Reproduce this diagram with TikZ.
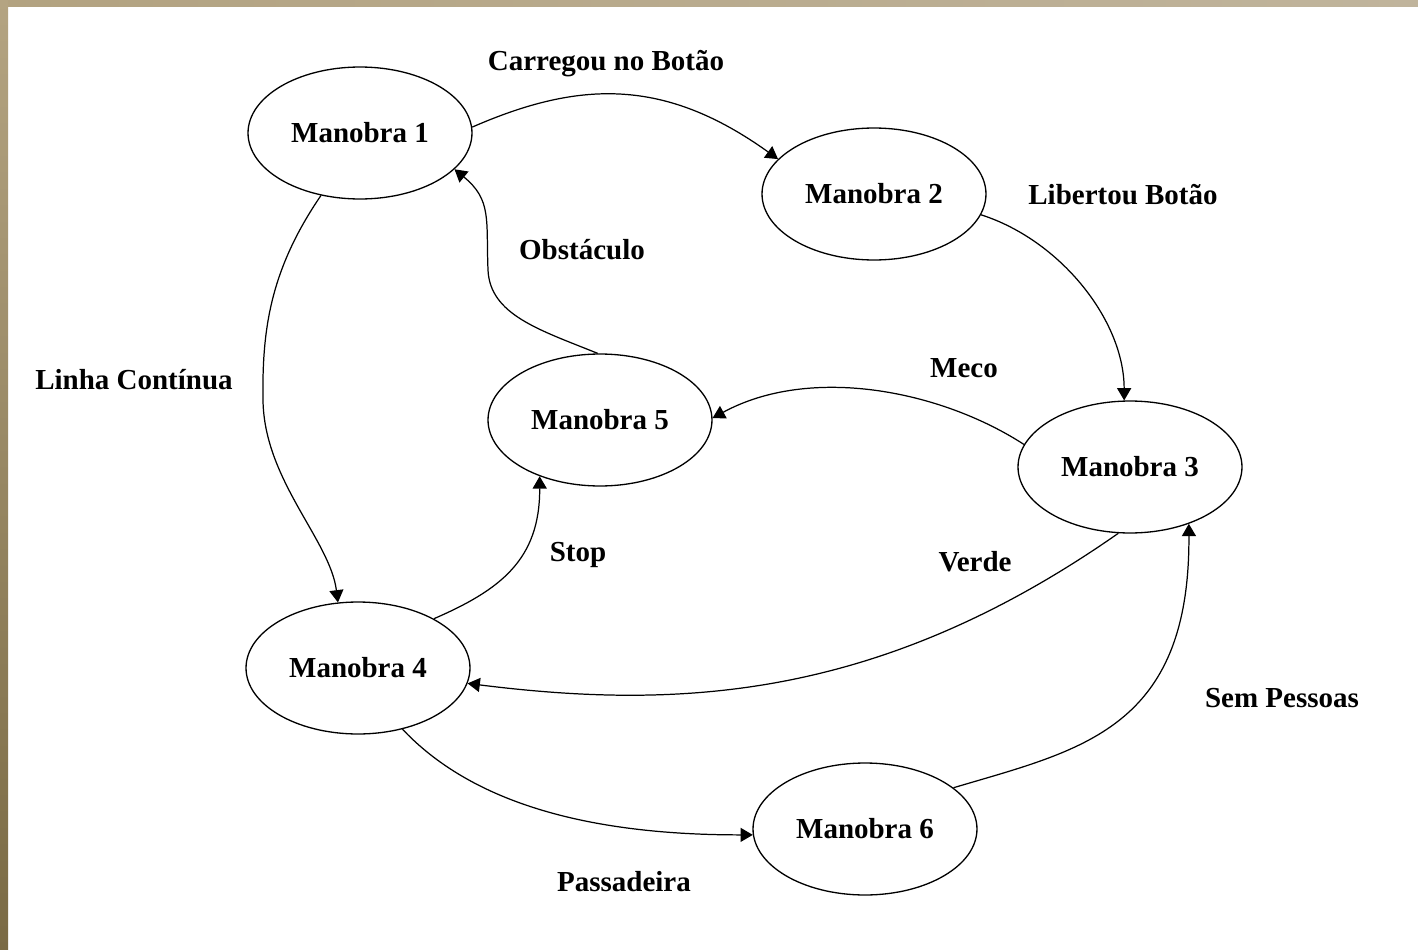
\documentclass[tikz,border=0pt]{standalone}
\usepackage{fontspec}
\setmainfont{Liberation Serif}
\usetikzlibrary{arrows.meta,shapes.geometric}

\begin{document}
\begin{tikzpicture}[x=0.02cm,y=-0.02cm,
	state/.style={draw,ellipse,line width=0.75pt,minimum width=4.48cm,minimum height=2.64cm,inner sep=0pt},
	lbl/.style={inner sep=0pt},
	trans/.style={line width=0.7pt,-{Triangle[length=7pt,width=8pt]}},
	font=\fontsize{16.5}{19}\selectfont\bfseries]
	%%  frame  %%%%%%%%
	\useasboundingbox (0,0) rectangle (1418,950);
	\fill[white] (0,0) rectangle (1418,950);
	\fill[left color={rgb,255:red,178;green,162;blue,128},right color={rgb,255:red,192;green,180;blue,156}] (0,0) rectangle (1418,6);
	\fill[top color={rgb,255:red,180;green,164;blue,130},bottom color={rgb,255:red,122;green,106;blue,68}] (0,0) rectangle (8,950);
	%%  states  %%%%%%%%
	\node[state] (m1) at (360,133) {Manobra 1};
	\node[state] (m2) at (874,194) {Manobra 2};
	\node[state] (m3) at (1130,467) {Manobra 3};
	\node[state] (m4) at (358,668) {Manobra 4};
	\node[state] (m5) at (600,420) {Manobra 5};
	\node[state] (m6) at (865,829) {Manobra 6};
	%%  labels  %%%%%%%%
	\node[lbl] (carregou) at (606,64) {Carregou no Botão};
	\node[lbl] (libertou) at (1123,195) {Libertou Botão};
	\node[lbl] (obst) at (582,250) {Obstáculo};
	\node[lbl] (linha) at (134,380) {Linha Contínua};
	\node[lbl] (meco) at (964,368) {Meco};
	\node[lbl] (stop) at (578,555) {Stop};
	\node[lbl] (verde) at (975,562) {Verde};
	\node[lbl] (sem) at (1282,698) {Sem Pessoas};
	\node[lbl] (passa) at (624,882) {Passadeira};
	%%  transitions  %%%%%%%%
	\draw[trans] (m1.3) .. controls (580,80) and (665,78) .. (m2.160);
	\draw[trans] (m2.-11) .. controls (1060,240) and (1124,320) .. (m3.95);
	\draw[trans] (m3.168) .. controls (940,390) and (810,365) .. (m5.1);
	\draw[trans] (m5.92) .. controls (540,330) and (490,315) .. (488,270)
		.. controls (486,220) and (492,200) .. (m1.-21);
	\draw[trans] (m1.238) .. controls (270,270) and (262,330) .. (263,400)
		.. controls (264,480) and (330,540) .. (m4.107);
	\draw[trans] (m4.33) .. controls (500,590) and (540,560) .. (m5.223);
	\draw[trans] (m3.260) .. controls (880,700) and (680,710) .. (m4.-8);
	\draw[trans] (m4.-54) .. controls (460,790) and (560,835) .. (m6.183);
	\draw[trans] (m6.25) .. controls (1080,750) and (1190,730) .. (m3.-44);
	%%%%%%%%%%%%%%%
\end{tikzpicture}
\end{document}
